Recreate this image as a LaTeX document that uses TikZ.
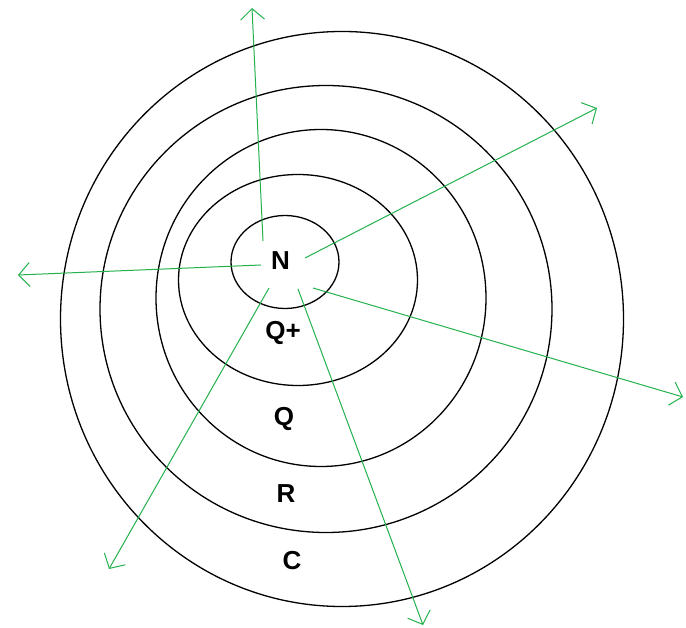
\documentclass[tikz,border=0pt]{standalone}
\usepackage{fontspec}
\setmainfont{Liberation Sans}
\usetikzlibrary{arrows.meta,shapes.geometric}
\definecolor{PaintGreen}{RGB}{34,177,76}

\begin{document}
\begin{tikzpicture}[x=1pt, y=-1pt,
    ring/.style={draw=black, ellipse, line width=1.3pt, inner sep=0pt},
    lbl/.style={font=\bfseries\fontsize{26}{26}\selectfont, inner sep=0pt},
    arr/.style={draw=PaintGreen, line width=1pt, -{Straight Barb[length=11pt, width=24pt, line width=1pt]}}
  ]
    \useasboundingbox (0,0) rectangle (686,628);
    % levels
    \node[ring, minimum width=563pt, minimum height=575pt] (ringC) at (342,319) {};
    \node[ring, minimum width=452pt, minimum height=447pt] (ringR) at (326,309) {};
    \node[ring, minimum width=330pt, minimum height=337pt] (ringQ) at (321,298) {};
    \node[ring, minimum width=239pt, minimum height=211pt] (ringQp) at (298,280) {};
    \node[ring, minimum width=108pt, minimum height=93pt] (ringN) at (285,262) {};
    \node[lbl] (N) at (280.5,261) {N};
    \node[lbl] (Qp) at (283,333) {Q+};
    \node[lbl] (Q) at (284,419) {Q};
    \node[lbl] (R) at (286,494) {R};
    \node[lbl] (C) at (292,561) {C};
    % arrows out of N
    \coordinate (s1) at (263,241);  \coordinate (e1) at (252,8);
    \coordinate (s2) at (305,258);  \coordinate (e2) at (597,108);
    \coordinate (s3) at (261,265);  \coordinate (e3) at (18,275);
    \coordinate (s4) at (313,288);  \coordinate (e4) at (683,397);
    \coordinate (s5) at (298,289);  \coordinate (e5) at (423,625);
    \coordinate (s6) at (269,288);  \coordinate (e6) at (109,569);
    \foreach \i in {1,...,6}
      \draw[arr] (s\i) -- (e\i);
  \end{tikzpicture}
\end{document}
